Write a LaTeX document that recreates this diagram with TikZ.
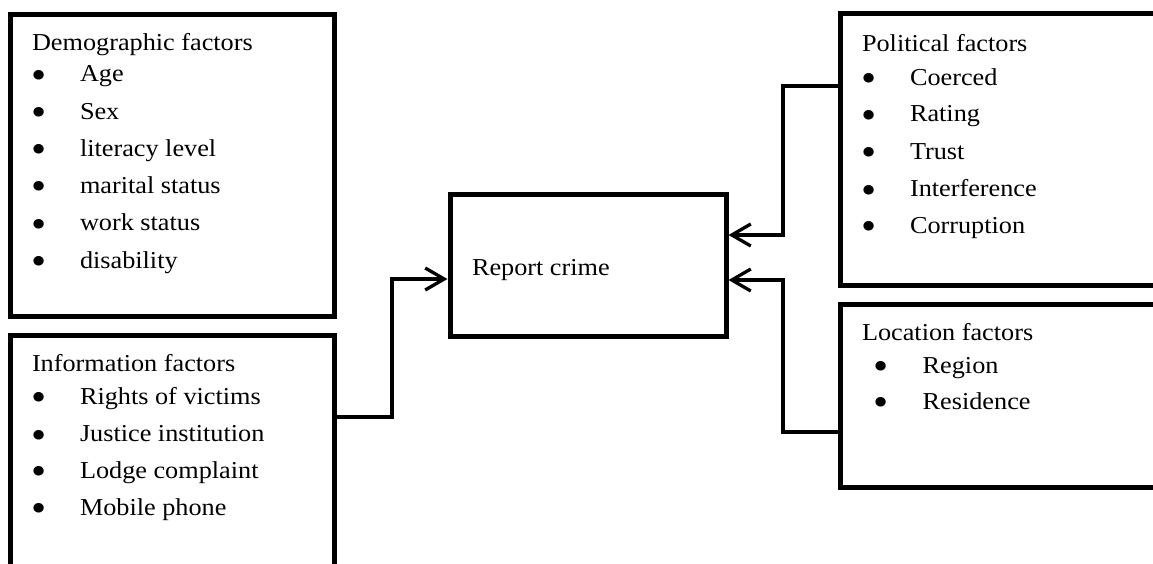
\documentclass[tikz,border=0pt]{standalone}
\usepackage{fontspec}
\setmainfont[FakeStretch=1.08]{Liberation Serif}
\usetikzlibrary{arrows.meta}
\newcommand{\bigbul}{{\fontsize{40}{40}\selectfont\raisebox{-6.3pt}[12pt][0pt]{\textbullet}}}
\begin{document}
\begin{tikzpicture}[x=1pt,y=-1pt,
  box/.style={draw,line width=5pt,rectangle,inner sep=0pt},
  txt/.style={anchor=base west,inner sep=0pt,outer sep=0pt,font=\fontsize{24.3}{28}\selectfont},
  conn/.style={line width=3.3pt},
  arr/.style={conn,-{Straight Barb[length=19pt,width=22pt]}}
]
\clip (0,0) rectangle (1153,563);
\fill[white] (0,0) rectangle (1153,563);
% boxes
\node[box,minimum width=324pt,minimum height=301.5pt] (demo) at (172,165.25) {};
\node[box,minimum width=324pt,minimum height=300pt] (info) at (172,485.5) {};
\node[box,minimum width=276pt,minimum height=142pt] (report) at (588,265) {};
\node[box,minimum width=360pt,minimum height=272pt] (pol) at (1020,149.5) {};
\node[box,minimum width=360pt,minimum height=183pt] (loc) at (1020,395.5) {};
% demographic text
\node[txt] (d0) at (32,50) {Demographic factors};
\node[txt] (db1) at (31,81.7) {\bigbul}; \node[txt] (d1) at (80,81.7) {Age};
\node[txt] (db2) at (31,119) {\bigbul}; \node[txt] (d2) at (80,119) {Sex};
\node[txt] (db3) at (31,156.3) {\bigbul}; \node[txt] (d3) at (80,156.3) {literacy level};
\node[txt] (db4) at (31,193.5) {\bigbul}; \node[txt] (d4) at (80,193.5) {marital status};
\node[txt] (db5) at (31,230.7) {\bigbul}; \node[txt] (d5) at (80,230.7) {work status};
\node[txt] (db6) at (31,268) {\bigbul}; \node[txt] (d6) at (80,268) {disability};
% information text
\node[txt] (i0) at (32,371.7) {Information factors};
\node[txt] (ib1) at (31,404.3) {\bigbul}; \node[txt] (i1) at (80,404.3) {Rights of victims};
\node[txt] (ib2) at (31,441.7) {\bigbul}; \node[txt] (i2) at (80,441.7) {Justice institution};
\node[txt] (ib3) at (31,478.3) {\bigbul}; \node[txt] (i3) at (80,478.3) {Lodge complaint};
\node[txt] (ib4) at (31,515) {\bigbul}; \node[txt] (i4) at (80,515) {Mobile phone};
% report
\node[txt] (r0) at (472,275) {Report crime};
% political text
\node[txt] (p0) at (862,51.7) {Political factors};
\node[txt] (pb1) at (861,85) {\bigbul}; \node[txt] (p1) at (910,85) {Coerced};
\node[txt] (pb2) at (861,121.7) {\bigbul}; \node[txt] (p2) at (910,121.7) {Rating};
\node[txt] (pb3) at (861,159.3) {\bigbul}; \node[txt] (p3) at (910,159.3) {Trust};
\node[txt] (pb4) at (861,196.7) {\bigbul}; \node[txt] (p4) at (910,196.7) {Interference};
\node[txt] (pb5) at (861,233.3) {\bigbul}; \node[txt] (p5) at (910,233.3) {Corruption};
% location text
\node[txt] (l0) at (862,340) {Location factors};
\node[txt] (lb1) at (873,373.3) {\bigbul}; \node[txt] (l1) at (922.7,373.3) {Region};
\node[txt] (lb2) at (873,409.3) {\bigbul}; \node[txt] (l2) at (922.7,409.3) {Residence};
% connectors
\coordinate (a1) at (392,417);
\coordinate (a2) at (392,279);
\draw[arr] (info.east |- a1) -- (a1) -- (a2) -- (report.west |- a2);
\coordinate (b1) at (783,86);
\coordinate (b2) at (783,235);
\draw[arr] (pol.west |- b1) -- (b1) -- (b2) -- (report.east |- b2);
\coordinate (c1) at (783,432);
\coordinate (c2) at (783,280);
\draw[arr] (loc.west |- c1) -- (c1) -- (c2) -- (report.east |- c2);
\end{tikzpicture}
\end{document}
